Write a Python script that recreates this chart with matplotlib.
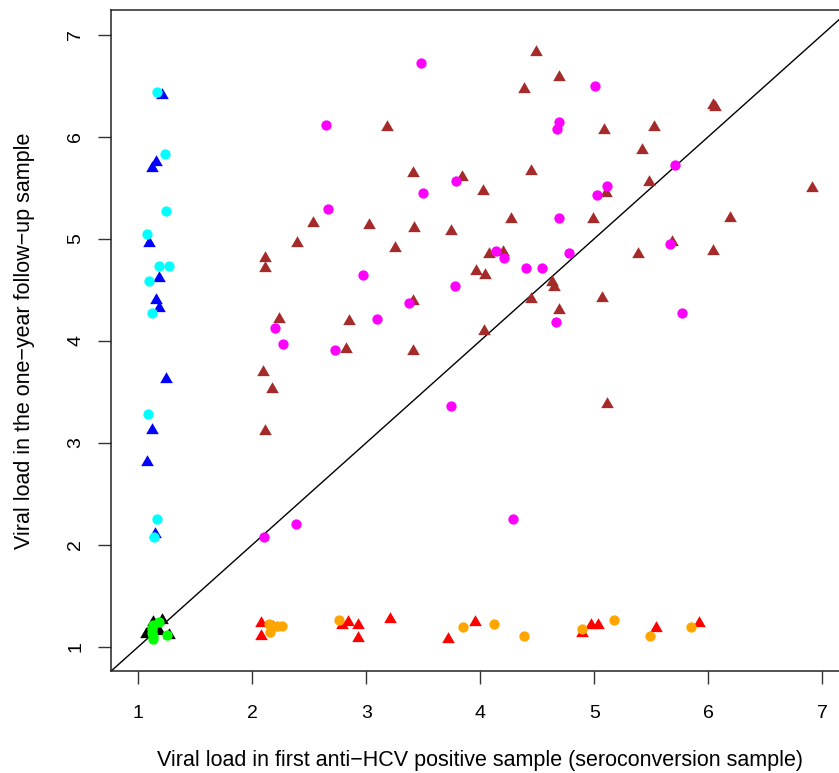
import numpy as np
import matplotlib.pyplot as plt
from matplotlib.path import Path

plt.rcParams['font.family'] = ['Liberation Sans', 'DejaVu Sans']

# blue triangles / cyan circles (x near 1)
blue_x = [1.205, 1.155, 1.12, 1.094, 1.18, 1.155, 1.18, 1.245, 1.118, 1.08, 1.144]
blue_y = [6.41, 5.75, 5.69, 4.96, 4.61, 4.40, 4.32, 3.62, 3.12, 2.81, 2.10]
cyan_x = [1.16, 1.23, 1.24, 1.08, 1.18, 1.27, 1.094, 1.12, 1.088, 1.164, 1.14]
cyan_y = [6.44, 5.83, 5.27, 5.05, 4.73, 4.73, 4.585, 4.27, 3.28, 2.25, 2.08]

# brown triangles / magenta circles
brown_x = [3.18, 3.41, 3.84, 4.02, 2.535, 3.02, 3.42, 3.74, 4.27, 2.39, 3.25, 2.11, 2.11,
           4.20, 4.08, 3.96, 4.04, 4.49, 4.69, 4.38, 6.04, 6.06, 5.085, 5.52, 5.42, 4.445,
           5.48, 5.10, 6.91, 4.99, 6.19, 5.68, 5.38, 6.04, 4.63, 4.65, 4.445, 5.065, 4.69,
           5.11, 3.41, 2.23, 2.85, 4.03, 2.82, 3.405, 2.09, 2.17, 2.11]
brown_y = [6.09, 5.64, 5.60, 5.47, 5.15, 5.13, 5.10, 5.08, 5.19, 4.955, 4.91, 4.81, 4.71,
           4.87, 4.85, 4.68, 4.645, 6.83, 6.58, 6.47, 6.31, 6.29, 6.07, 6.095, 5.87, 5.66,
           5.56, 5.45, 5.50, 5.19, 5.20, 4.965, 4.85, 4.88, 4.58, 4.53, 4.405, 4.415, 4.30,
           3.38, 4.39, 4.21, 4.19, 4.095, 3.92, 3.90, 3.69, 3.53, 3.11]
magenta_x = [3.48, 2.65, 3.79, 3.50, 2.66, 4.14, 4.205, 2.97, 5.01, 4.69, 4.67, 5.71, 5.11,
             5.02, 4.69, 5.66, 4.78, 4.40, 4.54, 4.66, 5.77, 4.29, 3.78, 3.37, 2.20, 3.09,
             2.27, 2.725, 3.74, 2.38, 2.10]
magenta_y = [6.725, 6.11, 5.57, 5.45, 5.29, 4.88, 4.81, 4.645, 6.50, 6.14, 6.08, 5.72, 5.52,
             5.43, 5.20, 4.945, 4.86, 4.71, 4.71, 4.18, 4.27, 2.25, 4.54, 4.37, 4.12, 4.21,
             3.965, 3.905, 3.36, 2.20, 2.08]

# red triangles / orange circles (y near 1)
red_x = [2.08, 2.076, 2.18, 2.84, 2.79, 2.93, 2.93, 3.21, 3.72, 3.95, 4.895, 4.97, 5.035, 5.54, 5.92]
red_y = [1.235, 1.105, 1.19, 1.245, 1.21, 1.21, 1.09, 1.27, 1.08, 1.24, 1.13, 1.21, 1.21, 1.18, 1.235]
orange_x = [2.15, 2.155, 2.22, 2.26, 2.76, 3.85, 4.12, 4.38, 4.895, 5.17, 5.49, 5.85]
orange_y = [1.22, 1.14, 1.20, 1.20, 1.26, 1.19, 1.225, 1.105, 1.17, 1.26, 1.10, 1.19]

# black triangles / green circles (both near 1)
black_x = [1.13, 1.21, 1.07, 1.27, 1.18, 1.10]
black_y = [1.24, 1.26, 1.12, 1.11, 1.15, 1.17]
green_x = [1.13, 1.185, 1.12, 1.13, 1.25, 1.12, 1.13]
green_y = [1.21, 1.245, 1.13, 1.08, 1.115, 1.17, 1.10]

ticks = [1, 2, 3, 4, 5, 6, 7]

# R-style filled triangle (pch 17)
tri = Path([(0, 1), (-0.866, -0.5), (0.866, -0.5), (0, 1)],
           [Path.MOVETO, Path.LINETO, Path.LINETO, Path.CLOSEPOLY])

fig = plt.figure(figsize=(8.39, 7.73), dpi=100)
ax = fig.add_axes([0.1323, 0.132, 0.8796, 0.8551])

ax.plot([0, 8], [0, 8], color='black', lw=1.0, zorder=1)

tri_s = 110
circ_s = 55
ax.scatter(blue_x, blue_y, marker=tri, s=tri_s, color='#0000FF', lw=0, zorder=2)
ax.scatter(brown_x, brown_y, marker=tri, s=tri_s, color='#A52A2A', lw=0, zorder=2)
ax.scatter(red_x, red_y, marker=tri, s=tri_s, color='#FF0000', lw=0, zorder=2)
ax.scatter(black_x, black_y, marker=tri, s=tri_s, color='black', lw=0, zorder=2)
ax.scatter(cyan_x, cyan_y, marker='o', s=circ_s, color='#00FFFF', lw=0, zorder=3)
ax.scatter(magenta_x, magenta_y, marker='o', s=circ_s, color='#FF00FF', lw=0, zorder=3)
ax.scatter(orange_x, orange_y, marker='o', s=circ_s, color='#FFA500', lw=0, zorder=3)
ax.scatter(green_x, green_y, marker='o', s=circ_s, color='#00FF00', lw=0, zorder=3)

ax.set_xlim(0.76, 7.234)
ax.set_ylim(0.762, 7.242)
ax.set_xticks(ticks)
ax.set_yticks(ticks)
ax.set_yticklabels([str(t) for t in ticks], rotation=90, va='center')
ax.tick_params(direction='out', length=9.4, width=1.0, labelsize=14, color='#333333')
ax.tick_params(axis='x', pad=15)
ax.tick_params(axis='y', pad=10)
for side in ['left', 'bottom', 'top', 'right']:
    ax.spines[side].set_linewidth(1.1)
    ax.spines[side].set_color('#222222')

ax.set_xlabel('Viral load in first anti\u2212HCV positive sample (seroconversion sample)',
              fontsize=15.5, labelpad=20)
ax.set_ylabel('Viral load in the one\u2212year follow\u2212up sample', fontsize=15.5, labelpad=23)

fig.savefig('out.png', dpi=100)
